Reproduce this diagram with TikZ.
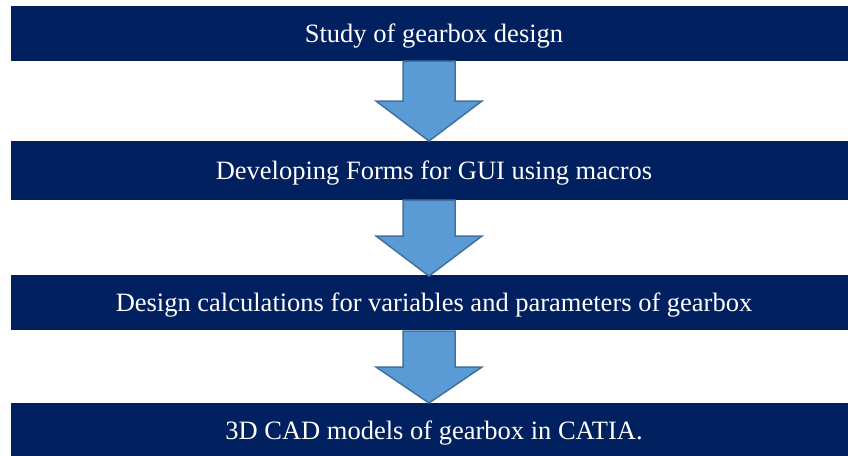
\documentclass[tikz,border=0pt]{standalone}
\usepackage{fontspec}
\setmainfont{Liberation Serif}
\usetikzlibrary{positioning}
\definecolor{stagenavy}{HTML}{002060}
\definecolor{arrowfill}{HTML}{5B9BD5}
\definecolor{arrowedge}{HTML}{41719C}

\begin{document}
\begin{tikzpicture}[
  x=1pt,y=-1pt,
  every node/.style={font=\fontsize{26.5}{30}\selectfont},
  stage/.style={fill=stagenavy,text=white,inner sep=0pt,text depth=0pt,minimum width=846pt},
  flowarrow/.style={fill=arrowfill,draw=arrowedge,line width=1.5pt,line join=miter}
]

% ---- canvas ----
\useasboundingbox (0,0) rectangle (848,455);

% ---- stages ----
\node[stage,minimum height=55pt] (study)  at (434,33.5)  {Study of gearbox design};
\node[stage,minimum height=59pt] (forms)  at (434,170.5) {Developing Forms for GUI using macros};
\node[stage,minimum height=55pt] (calc)   at (434,302.5) {Design calculations for variables and parameters of gearbox};
\node[stage,minimum height=55pt] (models) at (434,430.5) {3D CAD models of gearbox in CATIA.};

% ---- block arrows between stages ----
\foreach \ytop/\ytip/\hl in {61/141/40,200/276/40,331/403/36}{
  \draw[flowarrow] (403,\ytop) -- (455,\ytop) -- (455,\ytip-\hl) -- (482,\ytip-\hl)
    -- (429,\ytip) -- (376,\ytip-\hl) -- (403,\ytip-\hl) -- cycle;
}

\end{tikzpicture}
\end{document}
